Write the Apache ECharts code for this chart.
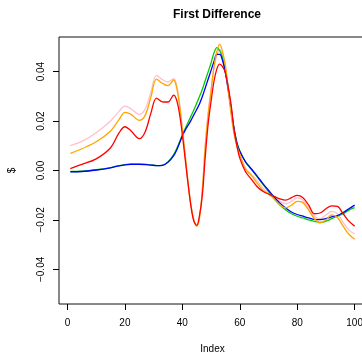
<!DOCTYPE html>
<html>
<head>
<meta charset="utf-8">
<script src="https://cdn.jsdelivr.net/npm/echarts@6/dist/echarts.min.js"></script>
<style>
  html, body { margin: 0; padding: 0; background: #fff; }
  #chart { width: 362px; height: 359px; }
</style>
</head>
<body>
<div id="chart"></div>
<script>
// index positions the curves were read at
const idx = [1, 5, 10, 15, 18, 20, 22, 25, 27, 29, 31, 33, 35, 37,
  38, 39, 40, 41, 42, 43, 44, 45, 46, 47, 48, 49, 50, 51, 52, 53, 54, 55, 56, 57, 58, 59, 60,
  62, 64, 66, 68, 70, 72, 74, 76, 78, 80, 82, 84, 86, 88, 90, 92, 94, 96, 98, 100]

const pinkVals = [0.0101, 0.0118, 0.0153, 0.0200, 0.0240, 0.0260, 0.0250, 0.0227, 0.0248, 0.0315, 0.0385, 0.0368, 0.0358, 0.0372,
  0.0345, 0.0275, 0.0170, 0.0060, -0.0050, -0.0140, -0.0200, -0.0225, -0.0190, -0.0070, 0.0110, 0.0235, 0.0330, 0.0410, 0.0465, 0.0490, 0.0465, 0.0405, 0.0315, 0.0225, 0.0150, 0.0100, 0.0065,
  0.0010, -0.0015, -0.0040, -0.0070, -0.0095, -0.0110, -0.0125, -0.0135, -0.0125, -0.0111, -0.0120, -0.0150, -0.0185, -0.0195, -0.0180, -0.0165, -0.0175, -0.0210, -0.0240, -0.0258]

const orangeVals = [0.0069, 0.0088, 0.0116, 0.0160, 0.0207, 0.0235, 0.0228, 0.0203, 0.0222, 0.0295, 0.0370, 0.0353, 0.0343, 0.0366,
  0.0335, 0.0265, 0.0165, 0.0060, -0.0050, -0.0140, -0.0200, -0.0225, -0.0190, -0.0075, 0.0100, 0.0225, 0.0320, 0.0420, 0.0480, 0.0511, 0.0480, 0.0425, 0.0325, 0.0230, 0.0150, 0.0100, 0.0065,
  0.0005, -0.0020, -0.0050, -0.0080, -0.0095, -0.0115, -0.0140, -0.0151, -0.0140, -0.0125, -0.0130, -0.0160, -0.0195, -0.0212, -0.0200, -0.0180, -0.0190, -0.0225, -0.0258, -0.0278]

const redVals = [0.0008, 0.0025, 0.0047, 0.0092, 0.0153, 0.0177, 0.0162, 0.0129, 0.0155, 0.0230, 0.0293, 0.0278, 0.0277, 0.0305,
  0.0285, 0.0230, 0.0145, 0.0045, -0.0055, -0.0145, -0.0205, -0.0222, -0.0180, -0.0095, 0.0060, 0.0190, 0.0280, 0.0360, 0.0410, 0.0430, 0.0420, 0.0395, 0.0335, 0.0265, 0.0165, 0.0100, 0.0050,
  -0.0005, -0.0035, -0.0065, -0.0084, -0.0095, -0.0105, -0.0115, -0.0120, -0.0110, -0.0101, -0.0110, -0.0140, -0.0175, -0.0172, -0.0155, -0.0143, -0.0145, -0.0175, -0.0205, -0.0225]

const greenVals = [-0.0004, -0.0003, 0.0003, 0.0012, 0.0020, 0.0024, 0.0027, 0.0027, 0.0026, 0.0023, 0.0020, 0.0021, 0.0035, 0.0065,
  0.0088, 0.0115, 0.0145, 0.0170, 0.0195, 0.0220, 0.0245, 0.0272, 0.0300, 0.0330, 0.0365, 0.0400, 0.0435, 0.0475, 0.0497, 0.0485, 0.0455, 0.0400, 0.0335, 0.0245, 0.0165, 0.0115, 0.0080,
  0.0035, 0.0005, -0.0025, -0.0055, -0.0085, -0.0115, -0.0140, -0.0160, -0.0175, -0.0185, -0.0192, -0.0200, -0.0206, -0.0210, -0.0205, -0.0195, -0.0185, -0.0175, -0.0160, -0.0150]

const blueVals = [-0.0005, -0.0004, 0.0002, 0.0011, 0.0019, 0.0023, 0.0025, 0.0025, 0.0024, 0.0022, 0.0020, 0.0021, 0.0033, 0.0060,
  0.0082, 0.0110, 0.0140, 0.0163, 0.0183, 0.0203, 0.0225, 0.0247, 0.0270, 0.0300, 0.0335, 0.0370, 0.0405, 0.0440, 0.0470, 0.0470, 0.0445, 0.0395, 0.0325, 0.0250, 0.0170, 0.0110, 0.0078,
  0.0035, 0.0007, -0.0022, -0.0052, -0.0080, -0.0108, -0.0132, -0.0152, -0.0168, -0.0178, -0.0185, -0.0192, -0.0198, -0.0199, -0.0195, -0.0188, -0.0182, -0.0170, -0.0155, -0.0140]

const xTicks = [0, 20, 40, 60, 80, 100]
const yTicks = [-0.04, -0.02, 0, 0.02, 0.04]

// drawing order: later ones sit on top
const lines = [
  { name: 'pink', color: '#ffc0cb', data: pinkVals },
  { name: 'green', color: '#00cd00', data: greenVals },
  { name: 'blue', color: '#0000ff', data: blueVals },
  { name: 'orange', color: '#ffa500', data: orangeVals },
  { name: 'red', color: '#ff0000', data: redVals },
]

const font = 'Liberation Sans, Arial, Helvetica, sans-serif'

const fmtY = (v) => {
  const s = Math.abs(v).toFixed(2)
  return v < -1e-9 ? '\u2212' + s : s
}

const myChart = echarts.init(document.getElementById('chart'), null, { renderer: 'canvas' })

myChart.setOption({
  animation: false,
  backgroundColor: '#fff',
  title: {
    text: 'First Difference',
    left: 212,
    top: 4,
    textAlign: 'center',
    textStyle: { fontFamily: font, fontSize: 12, fontWeight: 'bold', color: '#000' },
  },
  grid: {
    left: 59,
    top: 37,
    right: -4,
    bottom: 55,
    containLabel: false,
    outerBoundsMode: 'none',
    show: true,
    borderColor: '#111',
    borderWidth: 1,
  },
  xAxis: {
    type: 'value',
    min: -2.96,
    max: 103.96,
    name: 'Index',
    nameLocation: 'middle',
    nameGap: 40,
    nameTextStyle: { fontFamily: font, fontSize: 10, color: '#000' },
    axisLine: { show: false, onZero: false },
    splitLine: { show: false },
    axisTick: {
      show: true,
      inside: false,
      length: 6,
      customValues: xTicks,
      lineStyle: { color: '#000', width: 1 },
    },
    axisLabel: {
      customValues: xTicks,
      margin: 14,
      fontFamily: font,
      fontSize: 10,
      color: '#000',
      showMinLabel: true,
      showMaxLabel: true,
    },
  },
  yAxis: {
    type: 'value',
    min: -0.054,
    max: 0.054,
    name: '$',
    nameLocation: 'middle',
    nameGap: 42,
    nameRotate: 90,
    nameTextStyle: { fontFamily: font, fontSize: 10, color: '#000' },
    axisLine: { show: false, onZero: false },
    splitLine: { show: false },
    axisTick: {
      show: true,
      inside: false,
      length: 6,
      customValues: yTicks,
      lineStyle: { color: '#000', width: 1 },
    },
    axisLabel: {
      customValues: yTicks,
      rotate: 90,
      margin: 13,
      fontFamily: font,
      fontSize: 10,
      color: '#000',
      formatter: fmtY,
    },
  },
  series: lines.map((item) => ({
    name: item.name,
    type: 'line',
    data: idx.map((x, i) => [x, item.data[i]]),
    showSymbol: false,
    smooth: 0.35,
    clip: true,
    emphasis: { disabled: true },
    lineStyle: { color: item.color, width: 1.3 },
  })),
})
</script>
</body>
</html>
